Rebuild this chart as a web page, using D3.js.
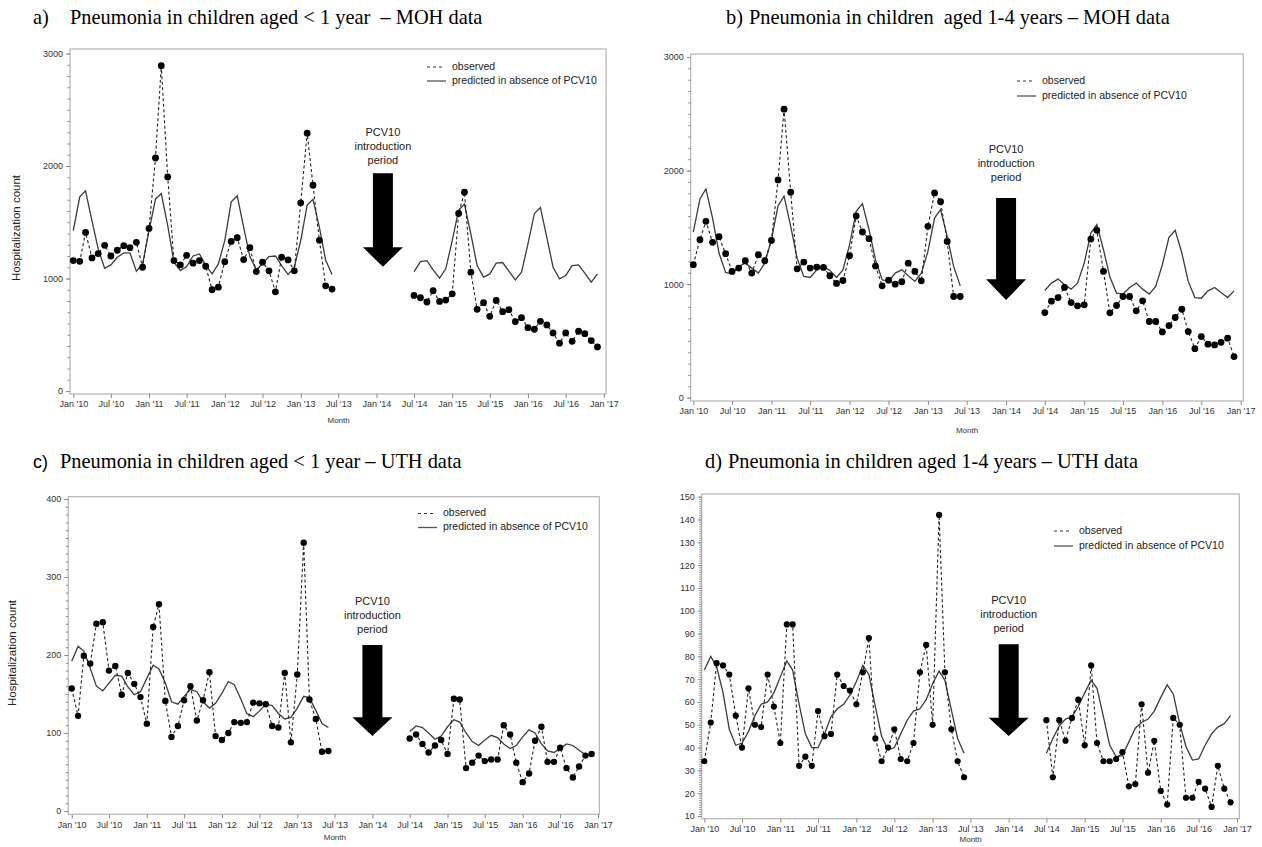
<!DOCTYPE html>
<html>
<head>
<meta charset="utf-8">
<script src="https://cdn.jsdelivr.net/npm/d3@7"></script>
<style>
  body { margin: 0; background: #fff; }
  svg { display: block; }
</style>
</head>
<body>
<div id="chart"></div>
<script>
// months shown: Jan 2010 - Jun 2013 (pre) and Jul 2014 - Dec 2016 (post)
var preMonths = d3.timeMonth.range(new Date(2010, 0, 1), new Date(2013, 6, 1))
var postMonths = d3.timeMonth.range(new Date(2014, 6, 1), new Date(2017, 0, 1))
var xTickDates = d3.timeMonth.every(6).range(new Date(2010, 0, 1), new Date(2017, 0, 2))

// a) < 1 year, MOH
var aObsPre = [1159, 1153, 1410, 1183, 1221, 1295, 1200, 1251, 1292, 1274, 1322, 1100,
    1445, 2071, 2891, 1903, 1159, 1121, 1206, 1136, 1159, 1109, 900, 923,
    1150, 1330, 1363, 1168, 1274, 1062, 1145, 1068, 882, 1189, 1165, 1068,
    1673, 2292, 1829, 1339, 935, 906]
var aObsPost = [850, 829, 791, 891, 796, 808, 864, 1578, 1767, 1056, 726, 785,
    664, 805, 705, 723, 617, 652, 563, 549, 619, 587, 516, 425,
    516, 442, 531, 510, 448, 392]
var aPredPre = [1425, 1726, 1779, 1513, 1263, 1091, 1121, 1189, 1227, 1227, 1065, 1130,
    1425, 1705, 1755, 1469, 1145, 1071, 1106, 1200, 1218, 1115, 1041, 1130,
    1336, 1681, 1734, 1454, 1195, 1077, 1130, 1195, 1200, 1115, 1035, 1100,
    1336, 1652, 1705, 1454, 1165, 1035]
var aPredPost = [1062, 1150, 1159, 1077, 1003, 1086, 1336, 1608, 1661, 1395, 1115, 1012,
    1041, 1136, 1142, 1065, 988, 1056, 1307, 1578, 1631, 1366, 1100, 997,
    1027, 1115, 1121, 1047, 968, 1041]

// b) 1-4 years, MOH
var bObsPre = [1171, 1391, 1553, 1368, 1418, 1268, 1112, 1141, 1206, 1097, 1259, 1206,
    1385, 1918, 2541, 1809, 1135, 1194, 1141, 1150, 1147, 1074, 1006, 1032,
    1250, 1600, 1459, 1400, 1159, 985, 1035, 1000, 1021, 1185, 1112, 1029,
    1509, 1803, 1726, 1376, 891, 891]
var bObsPost = [750, 850, 882, 971, 838, 809, 818, 1397, 1474, 1112, 747, 812,
    891, 891, 765, 853, 671, 671, 579, 635, 706, 779, 582, 432,
    538, 471, 465, 488, 524, 362]
var bPredPre = [1459, 1750, 1838, 1582, 1274, 1103, 1091, 1156, 1185, 1141, 1097, 1185,
    1391, 1691, 1774, 1509, 1229, 1068, 1059, 1126, 1156, 1121, 1059, 1126,
    1347, 1641, 1709, 1479, 1215, 1038, 1024, 1097, 1126, 1074, 1024, 1097,
    1288, 1582, 1656, 1421, 1156, 985]
var bPredPost = [944, 1009, 1044, 994, 956, 1009, 1185, 1450, 1524, 1303, 1062, 921,
    912, 971, 1009, 956, 912, 979, 1171, 1412, 1474, 1274, 1024, 882,
    876, 941, 971, 926, 882, 941]

// c) < 1 year, UTH
var cObsPre = [157, 122, 199, 189, 240, 242, 180, 186, 149, 177, 163, 146,
    112, 236, 265, 141, 95, 109, 142, 160, 116, 142, 178, 96,
    91, 100, 114, 113, 114, 139, 138, 137, 109, 107, 177, 88,
    175, 344, 143, 118, 76, 77]
var cObsPost = [93, 98, 86, 75, 84, 91, 73, 144, 143, 55, 62, 71,
    64, 66, 66, 110, 98, 62, 37, 48, 90, 108, 63, 63,
    81, 55, 43, 57, 71, 73]
var cPredPre = [192, 211, 205, 183, 160, 154, 164, 174, 173, 159, 149, 153,
    170, 187, 182, 164, 140, 137, 147, 156, 153, 140, 132, 138,
    151, 166, 162, 144, 125, 121, 128, 137, 135, 125, 118, 120,
    132, 147, 145, 129, 112, 107]
var cPredPost = [102, 109, 107, 100, 92, 96, 108, 117, 114, 100, 89, 84,
    91, 97, 94, 86, 80, 84, 95, 104, 100, 86, 77, 75,
    80, 86, 84, 78, 72, 72]

// d) 1-4 years, UTH
var dObsPre = [34, 51, 77, 76, 72, 54, 40, 66, 50, 49, 72, 58,
    42, 94, 94, 32, 36, 32, 56, 45, 46, 72, 67, 65,
    59, 73, 88, 44, 34, 40, 48, 35, 34, 42, 73, 85,
    50, 142, 73, 48, 34, 27]
var dObsPost = [52, 27, 52, 43, 53, 61, 41, 76, 42, 34, 34, 35,
    38, 23, 24, 59, 29, 43, 21, 15, 53, 50, 18, 18,
    25, 22, 14, 32, 22, 16]
var dPredPre = [74, 80, 75.5, 64, 48, 41, 42, 47, 54, 59, 60, 64,
    71, 78, 74, 59, 46, 40, 40, 46, 53.5, 57, 59, 63,
    69, 76, 72, 58, 45, 39, 40, 46, 52, 56, 57, 61,
    68, 73.5, 69.5, 56.5, 44, 37.5]
var dPredPost = [37.5, 44, 49.5, 52.5, 53.5, 58, 64, 69.5, 66, 53.5, 41, 36,
    36.5, 42.5, 48.5, 51, 52.5, 56, 62, 67.5, 63.5, 50.5, 40.5, 34.5,
    35, 41, 46, 49, 50.5, 54]

var mohTicks = [0, 1000, 2000, 3000]
var uth1Ticks = [0, 100, 200, 300, 400]
var uth4Ticks = d3.range(10, 151, 10)

var width = 1262
var height = 847

var svg = d3.select("#chart")
    .append("svg")
    .attr("width", width)
    .attr("height", height)

var panels = [
    {
        obsPre: aObsPre, obsPost: aObsPost, predPre: aPredPre, predPost: aPredPost,
        left: 70, top: 49, right: 606, bottom: 394, x0: 73.3, x1: 603.9,
        yDomain: [0, 3000], yRange: [391, 53.5], yTicks: mohTicks, minorStep: 100,
        arrow: { date: new Date(2014, 1, 1), top: 1935, head: 1277, tip: 1105 }, textGap: 40,
        legX: 452, legY: 67, legGap: 14, r: 3.4,
        ylabel: { x: 17, y: 228 }, monthY: 421,
        title: { x: 33, y: 24, tag: "a)", tagSerif: true, textX: 70,
            text: "Pneumonia in children aged < 1 year  \u2013 MOH data" }
    },
    {
        obsPre: bObsPre, obsPost: bObsPost, predPre: bPredPre, predPost: bPredPost,
        left: 690.7, top: 54, right: 1243.3, bottom: 401, x0: 693.3, x1: 1240.7,
        yDomain: [0, 3000], yRange: [397.7, 57], yTicks: mohTicks, minorStep: 100,
        arrow: { date: new Date(2014, 0, 1), top: 1758, head: 1042, tip: 860 }, textGap: 48,
        legX: 1042, legY: 81, legGap: 15, r: 3.4,
        ylabel: null, monthY: 431,
        title: { x: 726, y: 24, tag: "b)", tagSerif: true, textX: 749,
            text: "Pneumonia in children  aged 1-4 years \u2013 MOH data" }
    },
    {
        obsPre: cObsPre, obsPost: cObsPost, predPre: cPredPre, predPost: cPredPost,
        left: 68.3, top: 496.7, right: 599.3, bottom: 814.3, x0: 71.7, x1: 598,
        yDomain: [0, 400], yRange: [811, 499], yTicks: uth1Ticks, minorStep: 10,
        arrow: { date: new Date(2014, 0, 1), top: 212.8, head: 120.1, tip: 96.2 }, textGap: 43,
        legX: 443, legY: 513.5, legGap: 14, r: 3.2,
        ylabel: { x: 13, y: 653 }, monthY: 838,
        title: { x: 33, y: 468, tag: "c)", tagSerif: false, textX: 60,
            text: "Pneumonia in children aged < 1 year \u2013 UTH data" }
    },
    {
        obsPre: dObsPre, obsPost: dObsPost, predPre: dPredPre, predPost: dPredPost,
        left: 701.7, top: 494, right: 1239.3, bottom: 818.7, x0: 704.3, x1: 1237,
        yDomain: [10, 150], yRange: [816, 496.7], yTicks: uth4Ticks, minorStep: 1,
        arrow: { date: new Date(2014, 0, 1), top: 85.3, head: 53.1, tip: 45.1 }, textGap: 43,
        legX: 1079, legY: 531, legGap: 15, r: 3.1,
        ylabel: null, monthY: 840,
        title: { x: 705, y: 468, tag: "d)", tagSerif: true, textX: 728,
            text: "Pneumonia in children aged 1-4 years \u2013 UTH data" }
    }
]

function drawPanel(p) {
    var x = d3.scaleTime()
        .domain([new Date(2010, 0, 1), new Date(2017, 0, 1)])
        .range([p.x0, p.x1])
    var y = d3.scaleLinear()
        .domain(p.yDomain)
        .range(p.yRange)

    var g = svg.append("g")

    // title
    var t = g.append("text")
        .attr("y", p.title.y)
        .attr("font-size", 20.4)
        .attr("fill", "#000")
    t.append("tspan")
        .attr("x", p.title.x)
        .attr("font-family", p.title.tagSerif ? "Liberation Serif, Times New Roman, serif" : "Liberation Sans, Arial, sans-serif")
        .attr("font-size", p.title.tagSerif ? 20.4 : 18)
        .text(p.title.tag)
    t.append("tspan")
        .attr("x", p.title.textX)
        .attr("font-family", "Liberation Serif, Times New Roman, serif")
        .style("white-space", "pre")
        .text(p.title.text)

    // frame
    g.append("rect")
        .attr("x", p.left)
        .attr("y", p.top)
        .attr("width", p.right - p.left)
        .attr("height", p.bottom - p.top)
        .attr("fill", "none")
        .attr("stroke", "#b4b4b4")
        .attr("stroke-width", 1.2)

    // x axis
    var xAxis = g.append("g")
        .attr("transform", "translate(0," + p.bottom + ")")
        .call(d3.axisBottom(x)
            .tickValues(xTickDates)
            .tickFormat(d3.timeFormat("%b '%y"))
            .tickSize(4)
            .tickPadding(3))
    xAxis.select(".domain").remove()

    // y axis, minor then major ticks
    var minor = g.append("g")
        .attr("transform", "translate(" + p.left + ",0)")
        .call(d3.axisLeft(y)
            .tickValues(d3.range(p.yDomain[0], p.yDomain[1] + 0.001, p.minorStep))
            .tickSize(2.5)
            .tickFormat(""))
    minor.select(".domain").remove()
    var yAxis = g.append("g")
        .attr("transform", "translate(" + p.left + ",0)")
        .call(d3.axisLeft(y)
            .tickValues(p.yTicks)
            .tickFormat(d3.format("d"))
            .tickSize(4)
            .tickPadding(3))
    yAxis.select(".domain").remove()

    g.selectAll(".tick line").attr("stroke", "#8a8a8a")
    g.selectAll(".tick text")
        .attr("fill", "#333")
        .attr("font-size", 9)
        .attr("font-family", "Liberation Sans, Arial, sans-serif")

    // axis labels
    g.append("text")
        .attr("x", (p.x0 + p.x1) / 2)
        .attr("y", p.monthY)
        .attr("text-anchor", "middle")
        .attr("dominant-baseline", "middle")
        .attr("font-family", "Liberation Sans, Arial, sans-serif")
        .attr("font-size", 8)
        .attr("fill", "#333")
        .text("Month")

    if (p.ylabel) {
        g.append("text")
            .attr("transform", "translate(" + p.ylabel.x + "," + p.ylabel.y + ") rotate(-90)")
            .attr("text-anchor", "middle")
            .attr("dominant-baseline", "middle")
            .attr("font-family", "Liberation Sans, Arial, sans-serif")
            .attr("font-size", 11.5)
            .attr("fill", "#222")
            .text("Hospitalization count")
    }

    var pre = preMonths.map((m, i) => ({ date: m, obs: p.obsPre[i], pred: p.predPre[i] }))
    var post = postMonths.map((m, i) => ({ date: m, obs: p.obsPost[i], pred: p.predPost[i] }))

    var predLine = d3.line()
        .x(d => x(d.date))
        .y(d => y(d.pred))
    var obsLine = d3.line()
        .x(d => x(d.date))
        .y(d => y(d.obs))

    g.selectAll(".pred")
        .data([pre, post])
        .join("path")
        .attr("class", "pred")
        .attr("d", predLine)
        .attr("fill", "none")
        .attr("stroke", "#3c3c3c")
        .attr("stroke-width", 1.3)

    g.selectAll(".obs")
        .data([pre, post])
        .join("path")
        .attr("class", "obs")
        .attr("d", obsLine)
        .attr("fill", "none")
        .attr("stroke", "#222")
        .attr("stroke-width", 1.1)
        .attr("stroke-dasharray", "3,2.5")

    g.selectAll("circle")
        .data(pre.concat(post))
        .join("circle")
        .attr("cx", d => x(d.date))
        .attr("cy", d => y(d.obs))
        .attr("r", p.r)
        .attr("fill", "#000")

    // legend
    var leg = g.append("g")
        .attr("font-family", "Liberation Sans, Arial, sans-serif")
        .attr("font-size", 10.5)
        .attr("fill", "#222")
    leg.append("line")
        .attr("x1", p.legX - 25).attr("x2", p.legX - 8)
        .attr("y1", p.legY).attr("y2", p.legY)
        .attr("stroke", "#333")
        .attr("stroke-dasharray", "3,3")
    leg.append("line")
        .attr("x1", p.legX - 25).attr("x2", p.legX - 6)
        .attr("y1", p.legY + p.legGap).attr("y2", p.legY + p.legGap)
        .attr("stroke", "#555")
        .attr("stroke-width", 1.3)
    leg.append("text")
        .attr("x", p.legX).attr("y", p.legY)
        .attr("dominant-baseline", "middle")
        .text("observed")
    leg.append("text")
        .attr("x", p.legX).attr("y", p.legY + p.legGap)
        .attr("dominant-baseline", "middle")
        .text("predicted in absence of PCV10")

    // PCV10 introduction arrow
    var cx = x(p.arrow.date)
    var yTop = y(p.arrow.top)
    var yHead = y(p.arrow.head)
    var yTip = y(p.arrow.tip)
    var pts = [[cx - 10, yTop], [cx + 10, yTop], [cx + 10, yHead], [cx + 20, yHead],
        [cx, yTip], [cx - 20, yHead], [cx - 10, yHead]]
    g.append("polygon")
        .attr("points", pts.map(d => d.join(",")).join(" "))
        .attr("fill", "#000")

    g.selectAll(".pcv")
        .data(["PCV10", "introduction", "period"])
        .join("text")
        .attr("class", "pcv")
        .attr("x", cx)
        .attr("y", (d, i) => yTop - p.textGap + i * 14)
        .attr("text-anchor", "middle")
        .attr("dominant-baseline", "middle")
        .attr("font-family", "Liberation Sans, Arial, sans-serif")
        .attr("font-size", 11)
        .attr("fill", "#222")
        .text(d => d)
}

panels.forEach(drawPanel)
</script>
</body>
</html>
